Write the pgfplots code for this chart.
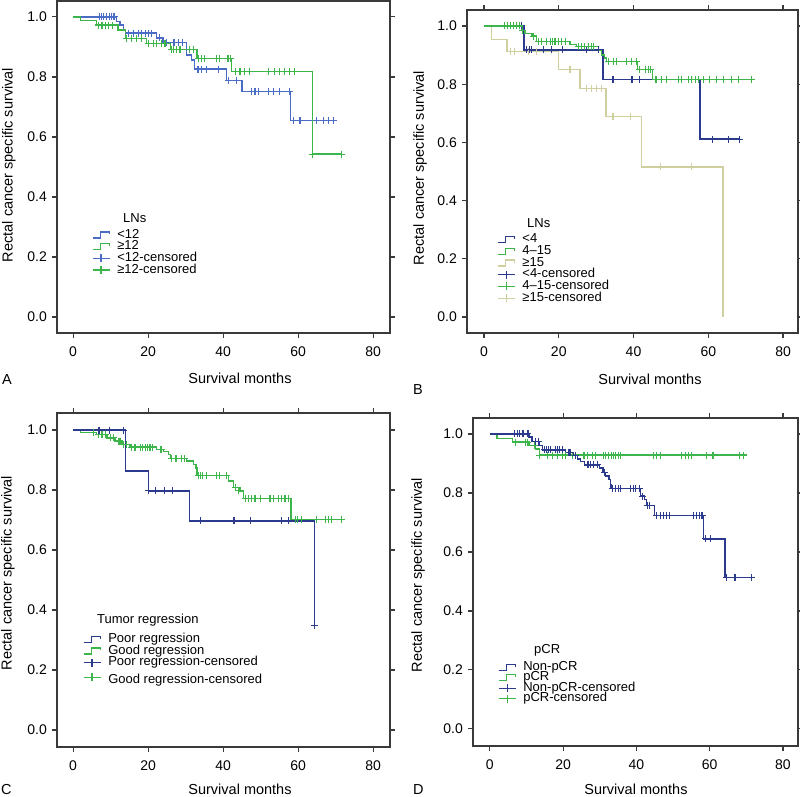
\documentclass[border=0pt]{standalone}
\usepackage{pgfplots}
\pgfplotsset{compat=1.18}
\usepackage{fontspec}
\setmainfont{Liberation Sans}
\definecolor{bA}{HTML}{4A6CC4}
\definecolor{gr}{HTML}{3DB54A}
\definecolor{nv}{HTML}{2B3A8C}
\definecolor{kh}{HTML}{CFCFA0}
\definecolor{frm}{HTML}{3A3A3A}
\pgfplotsset{
  steplegend/.style={legend image code/.code={\draw[##1,line width=1.3pt] (0pt,-3pt)--(8pt,-3pt)--(8pt,3pt)--(17pt,3pt)--(17pt,0.5pt);}},
  censlegend/.style={legend image code/.code={\draw[##1,line width=1.3pt] (0pt,0pt)--(17pt,0pt) (8.5pt,-4pt)--(8.5pt,4pt);}},
  km/.style={scale only axis, axis line style={draw=frm,line width=1.2pt},
    tick align=outside, tick style={draw=frm,line width=1.2pt}, major tick length=5pt,
    xtick={0,20,40,60,80}, ytick={0,0.2,0.4,0.6,0.8,1.0},
    yticklabel style={/pgf/number format/fixed, /pgf/number format/fixed zerofill, /pgf/number format/precision=1},
    /pgf/number format/assume math mode=true,
    ticklabel style={font=\fontsize{14}{14}\selectfont},
    xticklabel style={inner sep=0pt, yshift=-9pt},
    yticklabel style={inner sep=0pt, xshift=-5pt},
    legend cell align=left,
    legend style={draw=none, fill=none, inner sep=0pt, outer sep=0pt, row sep=0pt, anchor=north west,
      font=\fontsize{13}{13}\selectfont,
      nodes={inner sep=0pt, text height=9pt, text depth=2.7pt},
      /tikz/every odd column/.append style={column sep=7pt}},
  },
  cur/.style={const plot, line width=1.4pt, forget plot},
  cen/.style={only marks, mark=+, mark size=3.5pt, mark options={line width=1.1pt}, forget plot},
}
\begin{document}
\begin{tikzpicture}
\useasboundingbox (0pt,0pt) rectangle (800pt,797pt);
% ---------------- Panel A
\begin{axis}[km, at={(57pt,464pt)}, anchor=south west, width=333pt, height=332pt,
  xmin=-4.3, xmax=84.5, ymin=-0.053, ymax=1.053,
  legend style={at={(rel axis cs:0.105,0.313)}}]
\addplot[cur, bA] coordinates {(0,1.0) (11.5,0.985) (12.5,0.973) (13.5,0.957) (14.0,0.946) (22.3,0.930) (24.0,0.914) (30.3,0.873) (31.5,0.856) (32.4,0.826) (40.9,0.788) (45.0,0.751) (57.9,0.654) (69.4,0.654)};
\addplot[cur, gr] coordinates {(0,1.0) (2.0,0.988) (6.3,0.973) (12.0,0.957) (13.9,0.929) (19.6,0.912) (25.9,0.892) (33.0,0.862) (42.3,0.818) (63.8,0.543) (71.6,0.543)};
\addplot[cen, bA] coordinates {(7.0,1) (7.6,1) (8.2,1) (8.9,1) (9.6,1) (10.3,1) (10.9,1)
 (14.8,0.946) (16.1,0.946) (17.4,0.946) (18.3,0.946) (19.4,0.946) (20.2,0.946) (20.9,0.946)
 (23.0,0.930) (24.9,0.914) (26.9,0.914) (28.0,0.914) (29.1,0.914)
 (33.3,0.826) (34.2,0.826) (35.6,0.826) (38.7,0.826) (41.4,0.788) (43.6,0.788)
 (47.6,0.751) (48.5,0.751) (49.4,0.751) (52.1,0.751) (53.4,0.751) (55.1,0.751) (57.8,0.751)
 (58.8,0.654) (60.5,0.654) (64.8,0.654) (66.8,0.654) (68.1,0.654) (69.4,0.654)};
\addplot[cen, gr] coordinates {(6.8,0.973) (7.7,0.973) (8.6,0.973) (9.5,0.973) (10.4,0.973)
 (14.3,0.929) (15.6,0.929) (16.9,0.929) (18.3,0.929)
 (20.0,0.912) (21.4,0.912) (22.3,0.912) (23.6,0.912) (24.5,0.912)
 (26.3,0.892) (26.8,0.892) (27.6,0.892) (28.5,0.892) (31.0,0.892) (32.1,0.892)
 (33.4,0.862) (34.2,0.862) (35.1,0.862) (38.2,0.862) (39.1,0.862) (41.3,0.862) (41.9,0.862)
 (43.2,0.818) (44.5,0.818) (45.8,0.818) (47.0,0.818) (52.1,0.818) (53.8,0.818) (55.1,0.818) (56.4,0.818) (57.8,0.818) (59.1,0.818)
 (63.8,0.543) (71.6,0.543)};
\addlegendimage{steplegend, bA}\addlegendentry{<12}
\addlegendimage{steplegend, gr}\addlegendentry{≥12}
\addlegendimage{censlegend, bA}\addlegendentry{<12-censored}
\addlegendimage{censlegend, gr}\addlegendentry{≥12-censored}
\end{axis}
% ---------------- Panel B
\begin{axis}[km, at={(467pt,464pt)}, anchor=south west, width=331pt, height=323pt,
  xmin=-4.55, xmax=84.0, ymin=-0.055, ymax=1.055,
  legend style={at={(rel axis cs:0.091,0.307)}}]
\addplot[cur, kh] coordinates {(0,1.0) (2.05,0.954) (6.1,0.912) (19.9,0.851) (25.7,0.786) (32.6,0.688) (42.2,0.516) (63.9,0.0)};
\addplot[cur, nv] coordinates {(0,1.0) (10.7,0.918) (31.8,0.817) (57.8,0.611) (68.3,0.611)};
\addplot[cur, gr] coordinates {(0,1.0) (10.1,0.985) (11.0,0.975) (12.8,0.965) (14.1,0.946) (23.0,0.937) (24.8,0.929) (30.6,0.915) (31.5,0.90) (32.2,0.89) (32.8,0.877) (41.0,0.851) (45.0,0.817) (71.9,0.817)};
\addplot[cen, kh] coordinates {(7.0,0.912) (8.2,0.912) (12.0,0.912) (14.0,0.912) (23.0,0.851)
 (27.5,0.786) (28.8,0.786) (30.2,0.786) (31.5,0.786) (34.5,0.688) (39.3,0.688) (47.1,0.516) (55.6,0.516)};
\addplot[cen, nv] coordinates {(10.0,1.0) (11.4,0.918) (12.1,0.918) (12.8,0.918) (15.9,0.918) (18.1,0.918) (20.9,0.918) (27.5,0.918) (30.6,0.918)
 (34.5,0.817) (39.6,0.817) (41.7,0.817) (61.2,0.611) (65.3,0.611) (68.3,0.611)};
\addplot[cen, gr] coordinates {(5.5,1) (6.3,1) (7.0,1) (7.8,1) (8.7,1) (9.6,1) (10.4,0.985) (13.2,0.965)
 (14.5,0.946) (15.4,0.946) (16.6,0.946) (17.7,0.946) (18.4,0.946) (19.0,0.946) (19.9,0.946) (20.8,0.946) (21.7,0.946)
 (25.2,0.929) (26.1,0.929) (27.0,0.929) (27.9,0.929) (28.8,0.929) (29.2,0.929)
 (33.3,0.877) (34.6,0.877) (35.5,0.877) (38.2,0.877) (39.5,0.877) (40.9,0.877)
 (41.7,0.851) (43.1,0.851) (44.0,0.851) (44.6,0.851)
 (45.8,0.817) (46.2,0.817) (47.5,0.817) (48.9,0.817) (52.0,0.817) (52.9,0.817) (54.7,0.817) (55.6,0.817) (56.5,0.817)
 (57.3,0.817) (58.7,0.817) (60.3,0.817) (62.3,0.817) (64.0,0.817) (66.3,0.817) (68.0,0.817) (71.6,0.817)};
\addlegendimage{steplegend, nv}\addlegendentry{<4}
\addlegendimage{steplegend, gr}\addlegendentry{4–15}
\addlegendimage{steplegend, kh}\addlegendentry{≥15}
\addlegendimage{censlegend, nv}\addlegendentry{<4-censored}
\addlegendimage{censlegend, gr}\addlegendentry{4–15-censored}
\addlegendimage{censlegend, kh}\addlegendentry{≥15-censored}
\end{axis}
% ---------------- Panel C
\begin{axis}[km, at={(57pt,50pt)}, anchor=south west, width=333pt, height=334pt,
  xmin=-4.3, xmax=84.5, ymin=-0.057, ymax=1.057,
  legend style={at={(rel axis cs:0.078,0.340)}}]
\addplot[cur, gr] coordinates {(0,1.0) (1.9,0.991) (6.3,0.985) (9.0,0.974) (11.2,0.963) (13.0,0.952) (15.2,0.943) (22.3,0.936) (24.1,0.928) (25.4,0.919) (25.9,0.906) (30.3,0.897) (32.1,0.886) (32.8,0.874) (33.0,0.849) (41.4,0.830) (42.8,0.808) (44.5,0.797) (45.4,0.772) (58.1,0.702) (71.6,0.702)};
\addplot[cur, nv] coordinates {(0,1.0) (13.9,0.863) (20.1,0.797) (31.0,0.697) (64.3,0.347)};
\addplot[cen, gr] coordinates {(5.4,0.991) (6.8,0.985) (7.7,0.985) (8.6,0.985) (9.9,0.974) (10.8,0.974) (12.1,0.963) (12.5,0.963) (13.4,0.952) (14.3,0.952)
 (15.6,0.943) (16.5,0.943) (17.9,0.943) (18.6,0.943) (19.2,0.943) (19.8,0.943) (20.5,0.943) (21.2,0.943) (23.2,0.936) (23.6,0.936)
 (26.3,0.906) (27.2,0.906) (27.6,0.906) (29.0,0.906) (29.6,0.906)
 (33.4,0.849) (33.9,0.849) (34.6,0.849) (35.6,0.849) (38.3,0.849) (39.0,0.849) (40.8,0.849) (43.2,0.808) (44.1,0.797)
 (45.9,0.772) (46.8,0.772) (47.6,0.772) (48.5,0.772) (49.9,0.772) (52.5,0.772) (53.4,0.772) (54.8,0.772) (55.6,0.772) (56.5,0.772) (57.4,0.772)
 (59.2,0.702) (59.8,0.702) (61.0,0.702) (65.0,0.702) (67.2,0.702) (68.1,0.702) (69.0,0.702) (71.6,0.702)};
\addplot[cen, nv] coordinates {(6.9,1) (9.7,1) (13.4,1) (20.1,0.797) (21.9,0.797) (24.3,0.797) (26.5,0.797)
 (34.0,0.697) (42.9,0.697) (47.2,0.697) (55.6,0.697) (57.4,0.697) (64.3,0.347)};
\addlegendimage{steplegend, nv}\addlegendentry{Poor regression}
\addlegendimage{steplegend, gr}\addlegendentry{Good regression}
\addlegendimage{censlegend, nv}\addlegendentry{Poor regression-censored}
\addlegendimage{censlegend, gr}\addlegendentry[text height=15pt]{Good regression-censored}
\end{axis}
% ---------------- Panel D
\begin{axis}[km, at={(473pt,51pt)}, anchor=south west, width=325pt, height=328pt,
  xmin=-4.6, xmax=84.1, ymin=-0.058, ymax=1.054,
  legend style={at={(rel axis cs:0.077,0.256)}, nodes={text height=8.2pt, text depth=2.3pt}}]
\addplot[cur, gr] coordinates {(0,1.0) (1.9,0.985) (6.2,0.972) (10.7,0.960) (12.5,0.949) (13.6,0.928) (70.2,0.928)};
\addplot[cur, nv] coordinates {(0,1.0) (10.7,0.989) (11.5,0.974) (13.4,0.960) (14.3,0.946) (20.7,0.937) (22.9,0.926) (23.9,0.915) (24.8,0.906) (25.9,0.895) (30.0,0.884) (30.9,0.869) (31.6,0.858) (32.5,0.846) (32.9,0.829) (33.1,0.815) (41.1,0.789) (42.2,0.778) (42.7,0.758) (44.9,0.724) (58.3,0.644) (64.2,0.513) (71.7,0.513)};
\addplot[cen, gr] coordinates {(7.1,0.972) (9.8,0.972) (10.2,0.972) (12.1,0.960)
 (13.6,0.928) (15.7,0.928) (17.1,0.928) (18.4,0.928) (19.8,0.928) (20.7,0.928) (22.5,0.928) (25.7,0.928) (26.6,0.928) (27.9,0.928) (28.8,0.928)
 (31.1,0.928) (31.6,0.928) (32.5,0.928) (33.1,0.928) (33.8,0.928) (34.3,0.928) (35.2,0.928) (35.6,0.928) (44.7,0.928) (45.6,0.928) (46.5,0.928)
 (52.4,0.928) (53.3,0.928) (54.2,0.928) (55.1,0.928) (59.2,0.928) (60.9,0.928) (68.1,0.928) (69.2,0.928)};
\addplot[cen, nv] coordinates {(6.8,1) (7.5,1) (8.2,1) (8.9,1) (9.3,1) (10.4,1) (12.5,0.974) (13.2,0.974)
 (14.8,0.946) (15.5,0.946) (16.1,0.946) (16.6,0.946) (17.9,0.946) (18.4,0.946) (18.9,0.946) (19.8,0.946)
 (21.6,0.937) (22.0,0.937) (23.3,0.926) (26.6,0.895) (27.0,0.895) (27.5,0.895) (28.2,0.895) (29.3,0.895) (31.3,0.869)
 (33.4,0.815) (34.3,0.815) (35.2,0.815) (35.6,0.815) (38.4,0.815) (39.1,0.815) (39.7,0.815) (40.9,0.815) (41.6,0.789)
 (42.9,0.758) (43.6,0.758) (45.6,0.724) (46.5,0.724) (47.4,0.724) (48.2,0.724) (49.1,0.724) (55.6,0.724) (56.3,0.724) (57.2,0.724) (57.9,0.724)
 (58.8,0.644) (60.3,0.644) (64.7,0.513) (66.9,0.513) (71.5,0.513)};
\addlegendimage{steplegend, nv}\addlegendentry{Non-pCR}
\addlegendimage{steplegend, gr}\addlegendentry{pCR}
\addlegendimage{censlegend, nv}\addlegendentry{Non-pCR-censored}
\addlegendimage{censlegend, gr}\addlegendentry{pCR-censored}
\end{axis}
% ---------------- titles, labels
\begin{scope}[every node/.style={font=\fontsize{13}{13}\selectfont, inner sep=0pt}]
\node[anchor=base west] at (123pt,574pt) {LNs};
\node[anchor=base west] at (527pt,569pt) {LNs};
\node[anchor=base west] at (97pt,173pt) {Tumor regression};
\node[anchor=base west] at (534pt,143pt) {pCR};
\end{scope}
\begin{scope}[every node/.style={font=\fontsize{14.5}{14.5}\selectfont, inner sep=0pt}]
\node[rotate=90] at (9pt,632pt) {Rectal cancer specific survival};
\node[rotate=90] at (420pt,629pt) {Rectal cancer specific survival};
\node[rotate=90] at (8pt,224pt) {Rectal cancer specific survival};
\node[rotate=90] at (418pt,222pt) {Rectal cancer specific survival};
\node[anchor=base] at (240pt,413pt) {Survival months};
\node[anchor=base] at (650pt,412pt) {Survival months};
\node[anchor=base] at (240pt,2pt) {Survival months};
\node[anchor=base] at (636pt,2pt) {Survival months};
\node[anchor=base west] at (2pt,412pt) {A};
\node[anchor=base west] at (413pt,402pt) {B};
\node[anchor=base west] at (1pt,2pt) {C};
\node[anchor=base west] at (413pt,2pt) {D};
\end{scope}
\end{tikzpicture}
\end{document}
